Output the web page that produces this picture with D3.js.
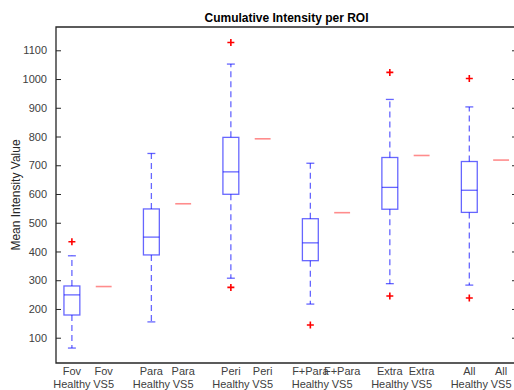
<!DOCTYPE html>
<html>
<head>
<meta charset="utf-8">
<script src="https://cdn.jsdelivr.net/npm/d3@7"></script>
<style>
  html, body { margin: 0; padding: 0; background: #fff; }
  svg { display: block; font-family: "Liberation Sans", Arial, sans-serif; }
</style>
</head>
<body>
<svg id="chart" width="514" height="390"></svg>
<script>
// Regions of interest, each with a healthy distribution and a single VS5 value
const regions = ["Fov", "Para", "Peri", "F+Para", "Extra", "All"];
const groupLabels = ["Healthy", "VS5"];

// Healthy box statistics per region
const whiskerLow  = [64, 155, 307, 217, 288, 283];
const q1          = [179, 388, 599, 368, 547, 536];
const median      = [249, 450, 677, 430, 623, 613];
const q3          = [280, 548, 797, 514, 727, 713];
const whiskerHigh = [385, 741, 1052, 707, 929, 903];
const outliers    = [[434], [], [1127, 275], [144], [1023, 245], [1002, 238]];

// Single VS5 value per region
const vs5 = [278, 566, 792, 535, 734, 718];

const yTicks = [100, 200, 300, 400, 500, 600, 700, 800, 900, 1000, 1100];

const svg = d3.select("#chart");
const plotLeft = 56, plotRight = 517, plotTop = 27, plotBottom = 363;

// Box positions: pairs 1,2 then 3.5,4.5 ... (gap of 1.5 between regions)
const posH = regions.map((_, i) => 1 + 2.5 * i);
const posV = regions.map((_, i) => 2 + 2.5 * i);

const x = d3.scaleLinear().domain([0.5, 15]).range([plotLeft, plotRight]);
const y = d3.scaleLinear().domain([12, 1181]).range([plotBottom, plotTop]);
const unit = x(1) - x(0);
const boxW = 0.5 * unit;
const capW = 0.25 * unit;

const axisColor = "#262626";
const labelColor = "#404040";

// Title
svg.append("text")
  .attr("x", (plotLeft + plotRight) / 2).attr("y", 21.5)
  .attr("text-anchor", "middle")
  .attr("font-size", 12).attr("font-weight", "bold")
  .attr("fill", "#000")
  .text("Cumulative Intensity per ROI");

// Y axis label
svg.append("text")
  .attr("transform", `translate(20,${(plotTop + plotBottom) / 2}) rotate(-90)`)
  .attr("text-anchor", "middle")
  .attr("font-size", 12)
  .attr("fill", axisColor)
  .text("Mean Intensity Value");

// Left axis with inward ticks
const yAxis = d3.axisLeft(y).tickValues(yTicks).tickSize(-5).tickPadding(9)
  .tickFormat(d3.format("d"));
const gy = svg.append("g").attr("transform", `translate(${plotLeft},0)`).call(yAxis);
gy.select(".domain").remove();
gy.selectAll(".tick line").attr("stroke", axisColor).attr("stroke-width", 1);
gy.selectAll(".tick text").attr("font-size", 11).attr("fill", labelColor)
  .attr("font-family", "Liberation Sans, Arial, sans-serif");

// Right axis ticks (inward)
const yAxisR = d3.axisRight(y).tickValues(yTicks).tickSize(-5).tickFormat("");
const gr = svg.append("g").attr("transform", `translate(${plotRight},0)`).call(yAxisR);
gr.select(".domain").remove();
gr.selectAll(".tick line").attr("stroke", axisColor).attr("stroke-width", 1);

// Frame
svg.append("path")
  .attr("d", `M${plotLeft},${plotBottom}V${plotTop}H${plotRight}V${plotBottom}Z`)
  .attr("fill", "none").attr("stroke", axisColor).attr("stroke-width", 1.3);

// X category labels (two lines)
const xLabels = [];
regions.forEach((r, i) => {
  xLabels.push({ pos: posH[i], line1: r, line2: groupLabels[0] });
  xLabels.push({ pos: posV[i], line1: r, line2: groupLabels[1] });
});
const gx = svg.append("g");
xLabels.forEach(d => {
  const t = gx.append("text")
    .attr("text-anchor", "middle")
    .attr("font-size", 11).attr("fill", labelColor);
  t.append("tspan").attr("x", x(d.pos)).attr("y", 374.5).text(d.line1);
  t.append("tspan").attr("x", x(d.pos)).attr("y", 387.5).text(d.line2);
});

const blue = "#0000ff";
const plot = svg.append("g");

// Healthy boxplots
regions.forEach((r, i) => {
  const cx = x(posH[i]);
  const g = plot.append("g");
  // whiskers
  g.append("line").attr("x1", cx).attr("x2", cx)
    .attr("y1", y(q3[i])).attr("y2", y(whiskerHigh[i]))
    .attr("stroke", blue).attr("stroke-opacity", 0.6).attr("stroke-width", 1.3)
    .attr("stroke-dasharray", "6,4");
  g.append("line").attr("x1", cx).attr("x2", cx)
    .attr("y1", y(q1[i])).attr("y2", y(whiskerLow[i]))
    .attr("stroke", blue).attr("stroke-opacity", 0.6).attr("stroke-width", 1.3)
    .attr("stroke-dasharray", "6,4");
  // caps
  [whiskerHigh[i], whiskerLow[i]].forEach(v => {
    g.append("line").attr("x1", cx - capW / 2).attr("x2", cx + capW / 2)
      .attr("y1", y(v)).attr("y2", y(v))
      .attr("stroke", blue).attr("stroke-opacity", 0.6).attr("stroke-width", 1.3);
  });
  // box
  g.append("rect")
    .attr("x", cx - boxW / 2).attr("width", boxW)
    .attr("y", y(q3[i])).attr("height", y(q1[i]) - y(q3[i]))
    .attr("fill", "none").attr("stroke", blue).attr("stroke-opacity", 0.6)
    .attr("stroke-width", 1.3);
  // median
  g.append("line").attr("x1", cx - boxW / 2).attr("x2", cx + boxW / 2)
    .attr("y1", y(median[i])).attr("y2", y(median[i]))
    .attr("stroke", blue).attr("stroke-opacity", 0.6).attr("stroke-width", 1.3);
  // outliers
  outliers[i].forEach(v => {
    const oy = y(v);
    g.append("path")
      .attr("d", `M${cx - 3.5},${oy}H${cx + 3.5}M${cx},${oy - 3.5}V${oy + 3.5}`)
      .attr("stroke", "#ff0000").attr("stroke-width", 1.6);
  });
});

// VS5 single values
regions.forEach((r, i) => {
  const cx = x(posV[i]);
  plot.append("line").attr("x1", cx - boxW / 2).attr("x2", cx + boxW / 2)
    .attr("y1", y(vs5[i])).attr("y2", y(vs5[i]))
    .attr("stroke", "#ff0000").attr("stroke-opacity", 0.45).attr("stroke-width", 1.6);
});
</script>
</body>
</html>
